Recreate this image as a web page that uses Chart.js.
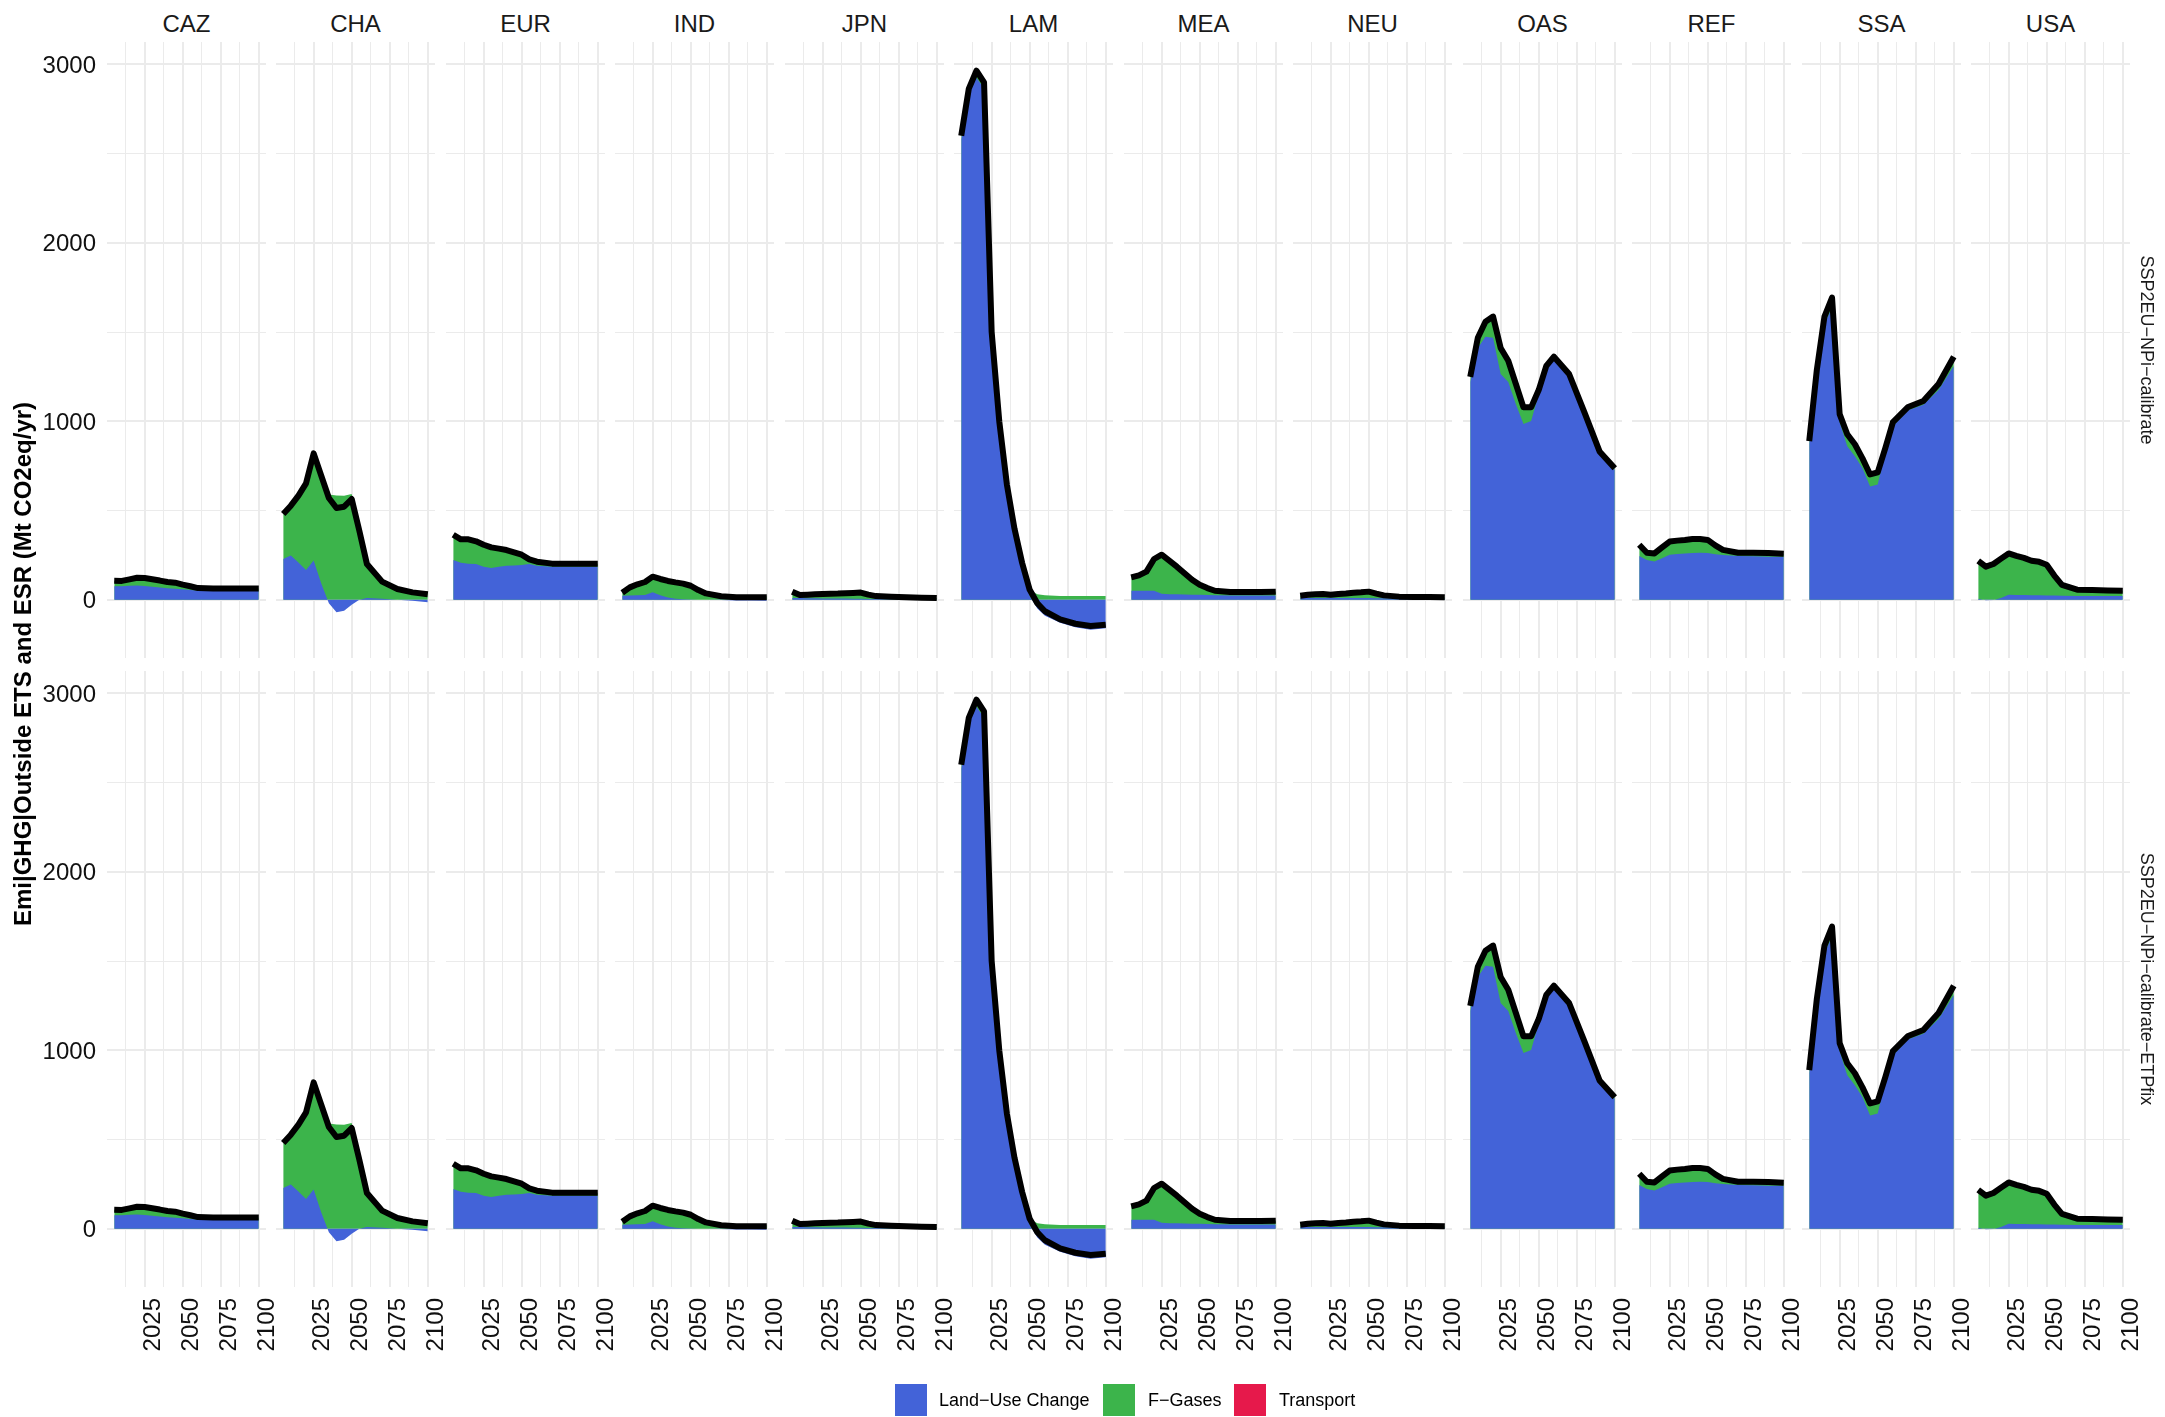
<!DOCTYPE html>
<html><head><meta charset="utf-8">
<script src="https://cdn.jsdelivr.net/npm/chart.js@4.4.1/dist/chart.umd.min.js"></script>
<style>
html,body{margin:0;padding:0;background:#fff;}
body{width:2165px;height:1417px;position:relative;overflow:hidden;font-family:"Liberation Sans",Arial,Helvetica,sans-serif;}
canvas{position:absolute;}
.strip{position:absolute;font-size:24px;line-height:24px;text-align:center;color:#1a1a1a;white-space:nowrap;width:159px;}
.rstrip{position:absolute;font-size:18px;line-height:18px;text-align:center;color:#1a1a1a;white-space:nowrap;width:500px;transform:rotate(90deg);transform-origin:50% 50%;}
.ytitle{position:absolute;font-size:24px;line-height:24px;font-weight:bold;text-align:center;color:#000;white-space:nowrap;width:800px;transform:rotate(-90deg);transform-origin:50% 50%;}
.key{position:absolute;width:32px;height:32px;}
.klab{position:absolute;font-size:18px;line-height:18px;color:#000;white-space:nowrap;}
</style></head><body>
<script>
const years = [2005,2010,2015,2020,2025,2030,2035,2040,2045,2050,2055,2060,2070,2080,2090,2100];
const regions = ['CAZ','CHA','EUR','IND','JPN','LAM','MEA','NEU','OAS','REF','SSA','USA'];
const scenarios = ['SSP2EU\u2212NPi\u2212calibrate','SSP2EU\u2212NPi\u2212calibrate\u2212ETPfix'];
const seriesNames = ['Land\u2212Use Change','F\u2212Gases','Transport'];
const seriesColors = ['#4363d8','#3cb44b','#e6194b'];
const yTicks = [0,500,1000,1500,2000,2500,3000];
const xTicks = [2012.5,2025,2037.5,2050,2062.5,2075,2087.5,2100];
const xLabelled = [2025,2050,2075,2100];

// Land-Use Change (Mt CO2eq/yr)
const lucCAZ = [75,75,78,80,76,72,68,64,61,58,54,52,52,52,52,52];
const lucCHA = [228,247,209,166,219,90,-20,-70,-62,-28,0,10,5,0,-6,-14];
const lucEUR = [222,207,202,200,185,177,185,190,192,194,200,190,185,185,185,185];
const lucIND = [22,24,25,26,41,25,12,5,3,1,0,0,-2,-4,-5,-6];
const lucJPN = [10,9,8,8,7,7,6,6,5,5,4,4,3,3,2,2];
const lucLAM = [2580,2835,2925,2865,1470,970,616,368,172,20,-50,-90,-130,-155,-168,-160];
const lucMEA = [50,50,50,50,33,31,30,29,28,27,26,25,24,23,23,23];
const lucNEU = [10,10,10,10,9,9,9,9,9,9,8,8,8,8,8,8];
const lucOAS = [1220,1411,1474,1468,1265,1220,1096,984,1002,1152,1299,1348,1255,1045,825,728];
const lucREF = [245,223,214,232,252,256,259,261,263,261,255,250,245,243,241,240];
const lucSSA = [871,1254,1546,1637,995,860,804,736,635,646,826,972,1062,1092,1175,1310];
const lucUSA = [5,-3,-2,10,27,26,26,25,25,24,23,22,21,20,20,20];

// F-Gases (Mt CO2eq/yr)
const fgaCAZ = [31,30,36,43,45,42,39,35,34,26,21,13,11,11,11,10];
const fgaCHA = [252,280,374,486,601,605,590,584,583,592,387,190,96,60,47,44];
const fgaEUR = [142,131,136,127,123,116,101,88,73,58,26,23,17,17,17,17];
const fgaIND = [17,45,61,73,88,91,93,92,87,77,54,35,21,17,18,19];
const fgaJPN = [35,17,20,22,25,26,28,30,33,35,24,16,13,10,9,7];
const fgaLAM = [20,30,40,35,30,30,30,30,35,35,30,25,20,20,20,20];
const fgaMEA = [75,86,107,178,219,188,155,119,84,57,39,25,19,20,20,22];
const fgaNEU = [12,18,20,22,19,23,26,30,32,36,26,16,9,7,7,5];
const fgaOAS = [29,57,84,119,146,119,113,94,76,23,11,14,10,6,6,8];
const fgaREF = [63,40,45,61,74,75,76,79,77,74,49,29,18,20,20,17];
const fgaSSA = [18,34,41,56,45,67,67,56,67,68,23,23,18,22,34,52];
const fgaUSA = [213,188,202,220,232,219,208,193,187,172,112,61,35,34,32,30];

// Transport (Mt CO2eq/yr) - not visible in the figure
const transport = [0,0,0,0,0,0,0,0,0,0,0,0,0,0,0,0];

const lucByRegion = {CAZ:lucCAZ,CHA:lucCHA,EUR:lucEUR,IND:lucIND,JPN:lucJPN,LAM:lucLAM,MEA:lucMEA,NEU:lucNEU,OAS:lucOAS,REF:lucREF,SSA:lucSSA,USA:lucUSA};
const fgaByRegion = {CAZ:fgaCAZ,CHA:fgaCHA,EUR:fgaEUR,IND:fgaIND,JPN:fgaJPN,LAM:fgaLAM,MEA:fgaMEA,NEU:fgaNEU,OAS:fgaOAS,REF:fgaREF,SSA:fgaSSA,USA:fgaUSA};

// ---------- layout ----------
const PANEL_W = 159, PANEL_H = 616;
const colLeft = c => Math.round(107 + 169.45*c);
const rowTop = [42, 671];
const YAX = 77, RPAD = 26, XAX = 80;
const FONT = '"Liberation Sans", Arial, Helvetica, sans-serif';
const TXT = '#111111';

function pts(arr){ return years.map((x,k)=>({x:x, y:arr[k]})); }
function noPad(s){ s.paddingTop = 0; s.paddingBottom = 0; s.paddingLeft = 0; s.paddingRight = 0; }

for (let r = 0; r < scenarios.length; r++) {
  for (let c = 0; c < regions.length; c++) {
    const reg = regions[c];
    const luc = lucByRegion[reg], fga = fgaByRegion[reg];
    const total = years.map((y,k)=> luc[k] + fga[k] + transport[k]);
    const L = c === 0 ? YAX : 0;
    const B = r === scenarios.length-1 ? XAX : 0;
    const cv = document.createElement('canvas');
    cv.width = L + PANEL_W + RPAD; cv.height = PANEL_H + B;
    cv.style.width = cv.width + 'px'; cv.style.height = cv.height + 'px';
    cv.style.left = (colLeft(c) - L) + 'px'; cv.style.top = rowTop[r] + 'px';
    document.body.appendChild(cv);
    new Chart(cv.getContext('2d'), {
      type: 'line',
      data: { datasets: [
        { label:'Total', data: pts(total), stack:'total', order:0, fill:false,
          borderColor:'#000', borderWidth:6, borderJoinStyle:'round', borderCapStyle:'butt',
          pointRadius:0, tension:0 },
        { label: seriesNames[0], data: pts(luc), stack:'areas', order:1, fill:'origin',
          backgroundColor: seriesColors[0], borderWidth:0, borderColor:'rgba(0,0,0,0)', pointRadius:0, tension:0 },
        { label: seriesNames[1], data: pts(fga), stack:'areas', order:2, fill:'origin',
          backgroundColor: seriesColors[1], borderWidth:0, borderColor:'rgba(0,0,0,0)', pointRadius:0, tension:0 },
        { label: seriesNames[2], data: pts(transport), stack:'transport', order:3, fill:false,
          backgroundColor: seriesColors[2], borderWidth:0, borderColor:'rgba(0,0,0,0)', pointRadius:0, tension:0 }
      ]},
      options: {
        responsive:false, maintainAspectRatio:false, animation:false, devicePixelRatio:1, events:[],
        layout:{ padding:{left:0,right:RPAD,top:0,bottom:0}, autoPadding:false },
        plugins:{ legend:{display:false}, tooltip:{enabled:false}, title:{display:false} },
        scales:{
          x:{ type:'linear', min:2000.25, max:2104.75, stacked:false,
              border:{display:false},
              grid:{ color:'#ebebeb', drawTicks:false,
                     lineWidth: ctx => (ctx.tick && xLabelled.includes(ctx.tick.value)) ? 2 : 1 },
              afterBuildTicks: s => { s.ticks = xTicks.map(v=>({value:v})); },
              afterFit: s => { s.height = B; noPad(s); },
              ticks:{ display: B > 0, autoSkip:false, minRotation:90, maxRotation:90, padding:11, labelOffset:9,
                      color:TXT, font:{family:FONT, size:24},
                      callback: v => xLabelled.includes(v) ? String(v) : '' } },
          y:{ type:'linear', min:-327, max:3126, stacked:true,
              border:{display:false},
              grid:{ color:'#ebebeb', drawTicks:false,
                     lineWidth: ctx => (ctx.tick && ctx.tick.value % 1000 === 0) ? 2 : 1 },
              afterBuildTicks: s => { s.ticks = yTicks.map(v=>({value:v})); },
              afterFit: s => { s.width = L; noPad(s); },
              ticks:{ display: L > 0, padding:11, labelOffset:2, color:TXT, font:{family:FONT, size:24},
                      callback: v => (v % 1000 === 0) ? String(v) : '' } }
        }
      }
    });
  }
}

// column strips
regions.forEach((reg,c)=>{
  const d = document.createElement('div');
  d.className = 'strip'; d.textContent = reg;
  d.style.left = colLeft(c) + 'px'; d.style.top = '12px';
  document.body.appendChild(d);
});
// row strips
scenarios.forEach((sc,r)=>{
  const d = document.createElement('div');
  d.className = 'rstrip'; d.textContent = sc;
  const cy = rowTop[r] + PANEL_H/2;
  d.style.left = (2147 - 250) + 'px'; d.style.top = (cy - 9) + 'px';
  document.body.appendChild(d);
});
// y title
{
  const d = document.createElement('div');
  d.className = 'ytitle'; d.textContent = 'Emi|GHG|Outside ETS and ESR (Mt CO2eq/yr)';
  d.style.left = (23 - 400) + 'px'; d.style.top = (664 - 12) + 'px';
  document.body.appendChild(d);
}
// legend
const keyX = [895, 1103, 1234];
const labX = [939, 1148, 1279];
seriesNames.forEach((nm,i)=>{
  const k = document.createElement('div');
  k.className = 'key'; k.style.background = seriesColors[i];
  k.style.left = keyX[i] + 'px'; k.style.top = '1384px';
  document.body.appendChild(k);
  const t = document.createElement('div');
  t.className = 'klab'; t.textContent = nm;
  t.style.left = labX[i] + 'px'; t.style.top = '1391px';
  document.body.appendChild(t);
});
</script>
</body></html>
